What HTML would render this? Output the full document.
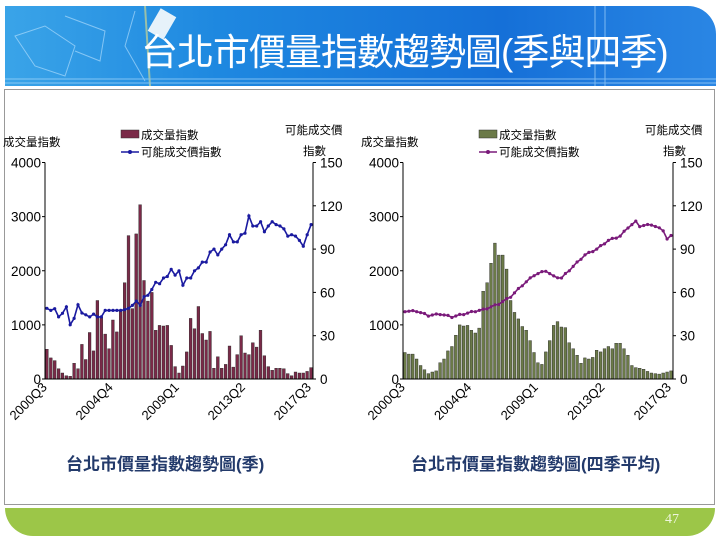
<!DOCTYPE html>
<html><head><meta charset="utf-8"><style>
body{margin:0;width:720px;height:541px;background:#fff;overflow:hidden;font-family:"Liberation Sans","Noto Sans CJK TC",sans-serif;position:relative}
#hdr{position:absolute;left:5px;top:6px;width:711px;height:80px;border-radius:0 28px 0 0;background:linear-gradient(90deg,#3aa4e8 0%,#1e88e0 30%,#1570d8 70%,#2a86e4 100%);overflow:hidden}
#hdr .t{position:absolute;left:136px;top:16px;font-size:37px;color:#fff;font-family:"Liberation Sans","Noto Sans CJK TC",sans-serif;letter-spacing:-1px;white-space:nowrap}
#box{position:absolute;left:4px;top:89px;width:709px;height:414px;border:1px solid #999}
#ftr{position:absolute;left:5px;top:508px;width:710px;height:28px;background:#9cc648;border-radius:0 0 28px 28px}
#ftr span{position:absolute;right:36px;top:4px;color:#eef5dd;font-family:"Liberation Serif",serif;font-size:14px}
svg{position:absolute;left:0;top:0}
</style></head><body>
<div id="hdr">
<svg width="711" height="80"><g stroke="#bfe4ff" stroke-width="1" fill="none" opacity="0.6">
<path d="M10 30 L40 20 L70 40 L60 70 L30 60 Z"/><path d="M60 10 L100 25 L95 55 L70 45"/><path d="M130 5 L120 40 L140 75"/>
<line x1="140" y1="0" x2="145" y2="80" stroke="#e8e080" stroke-width="2"/>
<line x1="0" y1="73" x2="711" y2="73"/><line x1="0" y1="77" x2="711" y2="77"/>
<line x1="590" y1="0" x2="590" y2="80"/><line x1="600" y1="0" x2="600" y2="80"/></g>
<rect x="148" y="5" width="18" height="26" fill="#e6f2fa" transform="rotate(30 157 18)"/></svg>
<div class="t">台北市價量指數趨勢圖(季與四季)</div></div>
<div id="box"></div>
<div id="ftr"><span>47</span></div>
<svg id="s" width="720" height="541" font-family="Liberation Sans, Noto Sans CJK TC, sans-serif"></svg>
<script>
const L_bar=[550,390,340,190,110,60,50,290,190,640,360,860,520,1450,1150,830,560,1090,870,1270,1780,2650,1300,2680,3220,1820,1440,1600,900,990,980,990,620,230,110,240,500,1120,930,1340,840,720,880,200,410,200,270,610,220,450,800,480,450,670,590,900,430,230,160,200,200,190,100,60,130,110,110,140,210];
const L_line=[49,47.5,48.7,43,45.5,50,37.6,42,51.5,45.7,44.5,43,45,43,43,47.5,47.5,47.5,47.5,47.5,48,49,51,54,51,57,58,62,67,66,70,71,76,72,75,65,70,70,75,77,81,81,88,90,86,90,93,100,95,95,100,101,113,106,106,109,102,106,109,107,106,104,99,100,99,96,92,100,107,105];
const R_bar=[490,460,460,370,250,170,100,130,150,300,370,520,600,810,1000,980,990,900,850,940,1620,1780,2140,2510,2290,2290,2030,1450,1230,1110,970,900,710,490,300,270,500,710,990,1060,960,950,670,560,440,290,390,370,400,530,500,560,600,560,660,660,560,440,250,210,200,180,140,110,100,90,110,130,150];
const R_key=[[0,47],[3,47],[6,44],[9,45],[12,43],[15,45],[18,47],[20,48],[24,52],[27,57],[30,65],[33,72],[36,75],[38,71],[40,70],[43,78],[46,86],[49,90],[52,96],[55,99],[57,105],[59,109],[60,106],[63,107],[66,103],[67,97],[68,99],[68,101]];
function interp(i){for(let k=0;k<R_key.length-1;k++){const a=R_key[k],b=R_key[k+1];if(i>=a[0]&&i<=b[0]){if(b[0]===a[0])return a[1];return a[1]+(b[1]-a[1])*(i-a[0])/(b[0]-a[0]);}}return 101;}
const R_line=[];for(let i=0;i<69;i++)R_line.push(interp(i)+((i%3)-1)*0.4);
let h='';
function chart(x0,x1,bars,line,bc,lc,title,tx){
 const y0=162.5,y1=379,n=69,w=(x1-x0)/n;
 bars.slice(0,n).forEach((v,i)=>{const hh=v/4000*(y1-y0);h+=`<rect x="${(x0+i*w+0.5).toFixed(1)}" y="${(y1-hh).toFixed(1)}" width="${(w*0.72).toFixed(1)}" height="${hh.toFixed(1)}" fill="${bc}" stroke="#222" stroke-width="0.4"/>`;});
 let p='';line.slice(0,n).forEach((v,i)=>{const x=x0+(i+0.5)*w,y=y1-v/150*(y1-y0);p+=(i?'L':'M')+x.toFixed(1)+' '+y.toFixed(1);h+=`<circle cx="${x.toFixed(1)}" cy="${y.toFixed(1)}" r="1.6" fill="${lc}"/>`;});
 h+=`<path d="${p}" fill="none" stroke="${lc}" stroke-width="1.6"/>`;
 h+=`<path d="M${x0} ${y0}V${y1}H${x1}V${y0}" fill="none" stroke="#000" stroke-width="1"/>`;
 for(let k=0;k<=4;k++){const y=y1-k*(y1-y0)/4;h+=`<line x1="${x0-3}" x2="${x0}" y1="${y}" y2="${y}" stroke="#000"/>`;
  h+=`<text x="${x0-4}" y="${y+5}" font-size="13.5" text-anchor="end" fill="#000">${k*1000}</text>`;}
 for(let k=0;k<=5;k++){const y=y1-k*(y1-y0)/5;h+=`<line x1="${x1}" x2="${x1+3}" y1="${y}" y2="${y}" stroke="#000"/>`;
  h+=`<text x="${x1+7}" y="${y+5}" font-size="13.5" fill="#000">${k*30}</text>`;}
 [['2000Q3',0],['2004Q4',17],['2009Q1',34],['2013Q2',51],['2017Q3',68]].forEach(([s,i])=>{const x=x0+(i+0.7)*w;h+=`<text transform="translate(${x},${y1+9}) rotate(-45)" font-size="13" text-anchor="end" fill="#000">${s}</text>`;});
 h+=`<text x="${x0-42}" y="146" font-size="11.5">成交量指數</text>`;
 h+=`<text x="${x1-28}" y="134" font-size="11.5">可能成交價</text><text x="${x1-10}" y="155" font-size="11.5">指數</text>`;
 const lx=x0+76;h+=`<rect x="${lx}" y="130" width="18" height="8" fill="${bc}" stroke="#333" stroke-width="0.5"/><text x="${lx+20}" y="139" font-size="11.5">成交量指數</text>`;
 h+=`<line x1="${lx}" x2="${lx+18}" y1="152" y2="152" stroke="${lc}" stroke-width="1.6"/><circle cx="${lx+9}" cy="152" r="2" fill="${lc}"/><text x="${lx+20}" y="156" font-size="11.5">可能成交價指數</text>`;
 h+=`<text x="${tx}" y="470" font-size="17" font-weight="bold" fill="#233a6b">${title}</text>`;
}
chart(45,313,L_bar,L_line,'#7a2a48','#1a1aa0','台北市價量指數趨勢圖(季)',66);
chart(403,673,R_bar,R_line,'#6b7a48','#7a1a7a','台北市價量指數趨勢圖(四季平均)',411);
document.getElementById('s').innerHTML=h;
</script>
</body></html>
